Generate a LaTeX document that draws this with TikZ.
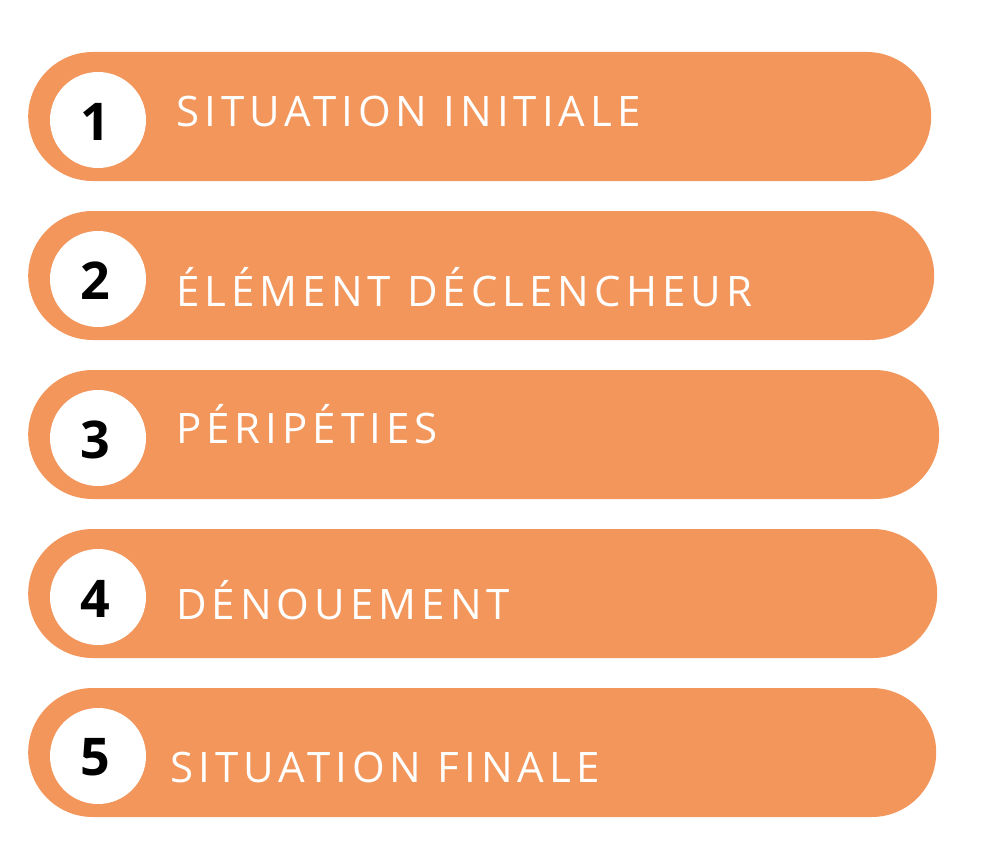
\documentclass[tikz,border=0pt]{standalone}
\usepackage{fontspec}
\setmainfont{Open Sans}
\newfontfamily\barfont{Open Sans}[LetterSpace=12]
\usetikzlibrary{shapes.misc,positioning}
\definecolor{barorange}{HTML}{F2965C}

\begin{document}
\begin{tikzpicture}[x=1pt,y=-1pt,
	bar/.style={rounded rectangle, fill=barorange, minimum height=129pt, anchor=west, inner sep=0pt},
	disc/.style={circle, fill=white, minimum size=96pt, inner sep=0pt},
	num/.style={font=\fontsize{52}{60}\selectfont\bfseries, text=black, inner sep=0pt},
	bartext/.style={font=\fontsize{42}{50}\selectfont\barfont, text=white, anchor=base west, inner sep=0pt}]
	\useasboundingbox (0,0) rectangle (988,856);
	% the five steps
	\node[bar, minimum width=903pt] (b1) at (28,116.5) {};
	\node[bar, minimum width=906pt] (b2) at (28,275.5) {};
	\node[bar, minimum width=911pt] (b3) at (28,434.5) {};
	\node[bar, minimum width=909pt] (b4) at (28,593.5) {};
	\node[bar, minimum width=908pt] (b5) at (28,752.5) {};
	% white discs
	\node[disc] (d1) at (98,120) {};
	\node[disc] (d2) at (98,279) {};
	\node[disc] (d3) at (98,438) {};
	\node[disc] (d4) at (98,597) {};
	\node[disc] (d5) at (98,756) {};
	% numbers
	\node[num] (n1) at ([xshift=-3pt,yshift=-1.5pt]d1.center) {1};
	\node[num] (n2) at ([xshift=-3pt,yshift=-1.5pt]d2.center) {2};
	\node[num] (n3) at ([xshift=-3pt,yshift=-1.5pt]d3.center) {3};
	\node[num] (n4) at ([xshift=-3pt,yshift=-1.5pt]d4.center) {4};
	\node[num] (n5) at ([xshift=-3pt,yshift=-1.5pt]d5.center) {5};
	% titles
	\node[bartext] (t1) at (176,127) {SITUATION INITIALE};
	\node[bartext] (t2) at (176,306) {ÉLÉMENT DÉCLENCHEUR};
	\node[bartext] (t3) at (176,443) {PÉRIPÉTIES};
	\node[bartext] (t4) at (176,619) {DÉNOUEMENT};
	\node[bartext] (t5) at (170,782) {SITUATION FINALE};
\end{tikzpicture}
\end{document}
